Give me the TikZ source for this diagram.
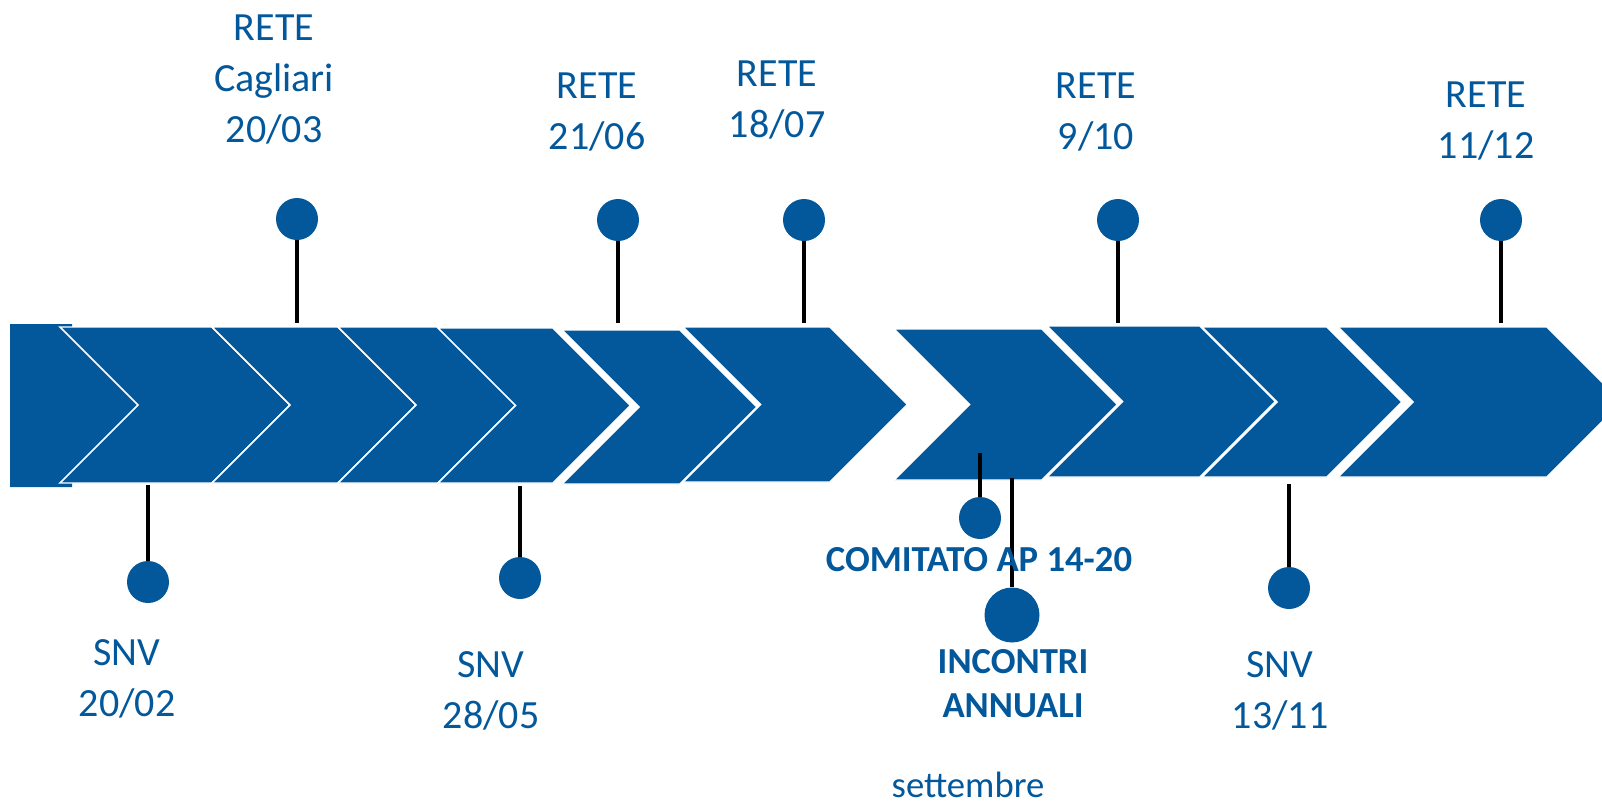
\documentclass[tikz,border=0pt]{standalone}
\usepackage{fontspec}
\setmainfont{Carlito}
\definecolor{cblue}{RGB}{2,88,155}
\newcommand{\mychev}[4]{%
  \path[chev] (#1,#3) -- (#2,#3) -- ({#2+(#4-#3)/2},{(#3+#4)/2}) -- (#2,#4) -- (#1,#4) -- ({#1+(#4-#3)/2},{(#3+#4)/2}) -- cycle;}
\begin{document}
\begin{tikzpicture}[x=0.75pt,y=-0.75pt,
  chev/.style={fill=cblue, draw=white, line width=1.1pt, line join=miter},
  lbl/.style={text=cblue, font=\fontsize{30}{38.25}\selectfont, align=center, inner sep=0pt, anchor=base},
  blbl/.style={lbl, font=\fontsize{27.5}{33}\selectfont\bfseries},
  slbl/.style={lbl, font=\fontsize{27.5}{33}\selectfont},
  dot/.style={circle, fill=cblue, inner sep=0pt, minimum size=31.5pt},
  bigdot/.style={dot, minimum size=41.25pt},
  stem/.style={draw=black, line width=2.5pt}]
\useasboundingbox (0,0) rectangle (1602,804);
\clip (0,0) rectangle (1602,804);
% chevrons
\fill[cblue] (10,324) -- (72,324) -- (72,327) -- (150,405) -- (72,483) -- (72,487) -- (10,487) -- cycle;
\mychev{60}{212}{327}{483}
\mychev{212}{338}{327}{483}
\mychev{338}{438}{327}{483}
\mychev{438}{553}{328}{483}
\mychev{562}{680}{330}{484}
\mychev{683}{830}{327}{482}
\mychev{894}{1042}{329}{480}
\mychev{1047}{1200}{326}{477}
\mychev{1202}{1327}{327}{477}
\mychev{1338}{1547}{327}{477}
% top circles and stems
\node[dot] (t1) at (297,219) {};
\node[dot] (t2) at (618,220) {};
\node[dot] (t3) at (804,220) {};
\node[dot] (t4) at (1118,220) {};
\node[dot] (t5) at (1501,220) {};
\coordinate (e1) at (297,323);
\coordinate (e2) at (618,323);
\coordinate (e3) at (804,323);
\coordinate (e4) at (1118,323);
\coordinate (e5) at (1501,323);
\draw[stem] (t1) -- (e1);
\draw[stem] (t2) -- (e2);
\draw[stem] (t3) -- (e3);
\draw[stem] (t4) -- (e4);
\draw[stem] (t5) -- (e5);
% bottom circles and stems
\node[dot] (b1) at (148,582) {};
\node[dot] (b2) at (520,578) {};
\node[dot] (b3) at (980,518) {};
\node[bigdot] (b4) at (1012,615) {};
\node[dot] (b5) at (1289,588) {};
\coordinate (s1) at (148,485);
\coordinate (s2) at (520,486);
\coordinate (s3) at (980,453);
\coordinate (s4) at (1012,478);
\coordinate (s5) at (1289,484);
\draw[stem] (s1) -- (b1);
\draw[stem] (s2) -- (b2);
\draw[stem] (s3) -- (b3);
\draw[stem] (s4) -- (b4);
\draw[stem] (s5) -- (b5);
% labels (anchor = baseline of last line)
\node[lbl] (l1) at (274,142) {RETE\\Cagliari\\20/03};
\node[lbl] (l2) at (597,149) {RETE\\21/06};
\node[lbl] (l3) at (777,137) {RETE\\18/07};
\node[lbl] (l4) at (1096,149) {RETE\\9/10};
\node[lbl] (l5) at (1486,158) {RETE\\11/12};
\node[lbl] (m1) at (127,716) {SNV\\20/02};
\node[lbl] (m2) at (491,728) {SNV\\28/05};
\node[lbl] (m5) at (1280,728) {SNV\\13/11};
\node[blbl] (m3) at (979,571) {COMITATO AP 14-20};
\node[blbl] (m4) at (1013,717) {INCONTRI\\ANNUALI};
\node[slbl] (m6) at (968,797) {settembre};
\end{tikzpicture}
\end{document}
